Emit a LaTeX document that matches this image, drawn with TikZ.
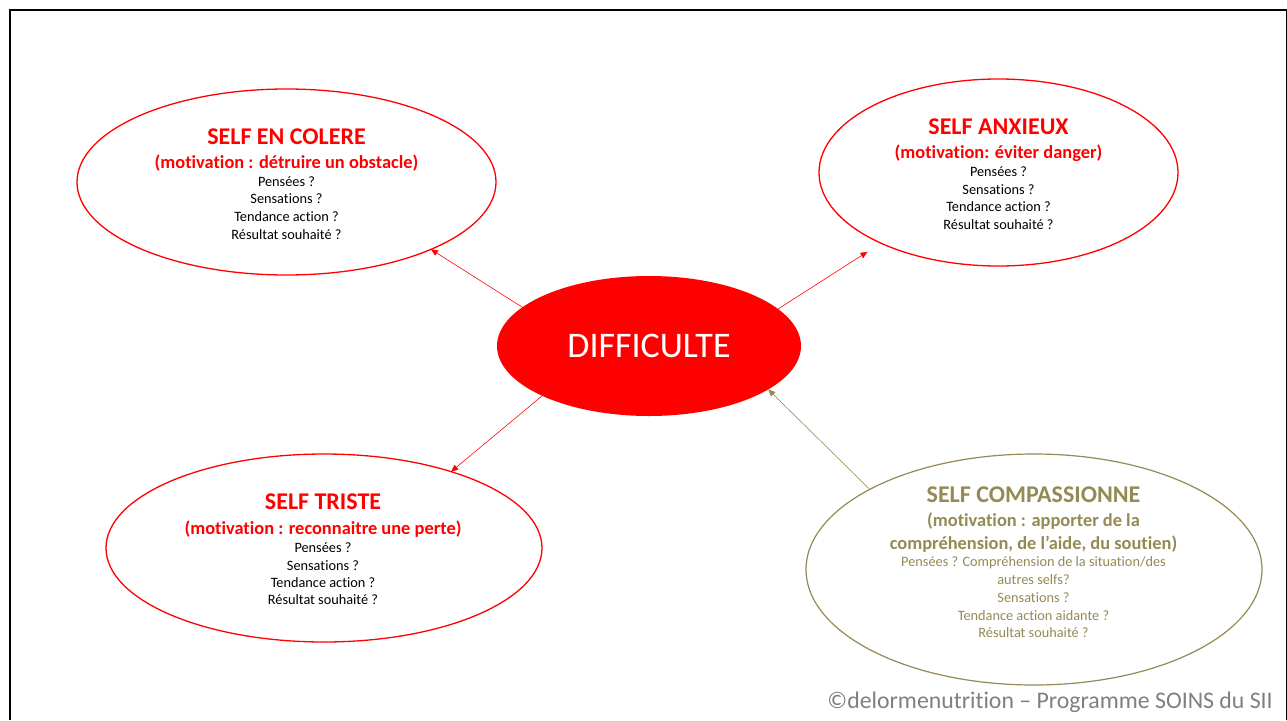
\documentclass[tikz,border=0pt]{standalone}
\usepackage{fontspec}
\setmainfont{Carlito}[Ligatures=NoCommon]
\usetikzlibrary{arrows.meta,shapes.geometric}
\definecolor{selfred}{HTML}{FF0000}
\definecolor{compcol}{HTML}{948A54}
\definecolor{footgray}{HTML}{7F7F7F}
\tikzset{
  selfell/.style={ellipse, draw=selfred, line width=1.3pt, inner sep=0pt, outer sep=0pt},
  ttl/.style={anchor=base, inner sep=0pt, font=\fontsize{24}{28}\selectfont\bfseries},
  mot/.style={anchor=base, inner sep=0pt, font=\fontsize{18.4}{22}\selectfont\bfseries},
  qln/.style={anchor=base, inner sep=0pt, font=\fontsize{14.3}{17}\selectfont},
  conn/.style={-{Triangle[length=7pt,width=6pt]}, line width=0.5pt},
}
\begin{document}
\begin{tikzpicture}[x=1pt,y=-1pt]
\fill[white] (0,0) rectangle (1287,720);
\useasboundingbox (0,0) rectangle (1287,720);
% frame
\draw[line width=2pt] (9.5,720) -- (9.5,9.5) -- (1286.5,9.5);
\draw[line width=1pt] (1286,9.5) -- (1286,720);

% central node
\node[ellipse, fill=selfred, inner sep=0pt, outer sep=0pt, minimum width=304pt, minimum height=140pt,
      text=white, font=\fontsize{36}{40}\selectfont] (diff) at (649,346) {DIFFICULTE};

% SELF EN COLERE
\node[selfell, minimum width=419pt, minimum height=186pt] (colere) at (286.5,182) {};
\node[ttl, text=selfred] (colere-t) at (286.5,144.3) {SELF EN COLERE};
\node[mot, text=selfred] (colere-m) at (286.5,168) {(motivation : détruire un obstacle)};
\node[qln] (colere-q1) at (286.5,186) {Pensées ?};
\node[qln] (colere-q2) at (286.5,203.7) {Sensations ?};
\node[qln] (colere-q3) at (286.5,221.4) {Tendance action ?};
\node[qln] (colere-q4) at (286.5,239) {Résultat souhaité ?};

% SELF ANXIEUX
\node[selfell, minimum width=359pt, minimum height=187pt] (anx) at (998.5,172.5) {};
\node[ttl, text=selfred] (anx-t) at (998.5,134) {SELF ANXIEUX};
\node[mot, text=selfred] (anx-m) at (998.5,158.3) {(motivation: éviter danger)};
\node[qln] (anx-q1) at (998.5,176) {Pensées ?};
\node[qln] (anx-q2) at (998.5,194) {Sensations ?};
\node[qln] (anx-q3) at (998.5,211.6) {Tendance action ?};
\node[qln] (anx-q4) at (998.5,229) {Résultat souhaité ?};

% SELF TRISTE
\node[selfell, minimum width=436pt, minimum height=188pt] (triste) at (324,548) {};
\node[ttl, text=selfred] (triste-t) at (323,509) {SELF TRISTE};
\node[mot, text=selfred] (triste-m) at (323,534) {(motivation : reconnaitre une perte)};
\node[qln] (triste-q1) at (323,552.7) {Pensées ?};
\node[qln] (triste-q2) at (323,570.2) {Sensations ?};
\node[qln] (triste-q3) at (323,587.5) {Tendance action ?};
\node[qln] (triste-q4) at (323,604.8) {Résultat souhaité ?};

% SELF COMPASSIONNE
\node[ellipse, draw=compcol, line width=1.2pt, inner sep=0pt, outer sep=0pt,
      minimum width=456pt, minimum height=231pt] (comp) at (1034,569.5) {};
\node[ttl, text=compcol] (comp-t) at (1033.5,502) {SELF COMPASSIONNE};
\node[mot, text=compcol] (comp-m1) at (1033.5,526) {(motivation : apporter de la};
\node[mot, text=compcol] (comp-m2) at (1033.5,549) {compréhension, de l’aide, du soutien)};
\node[qln, text=compcol] (comp-q1) at (1033.5,566.7) {Pensées ? Compréhension de la situation/des};
\node[qln, text=compcol] (comp-q2) at (1033.5,584.3) {autres selfs?};
\node[qln, text=compcol] (comp-q3) at (1033.5,602.5) {Sensations ?};
\node[qln, text=compcol] (comp-q4) at (1033.5,620) {Tendance action aidante ?};
\node[qln, text=compcol] (comp-q5) at (1033.5,637.3) {Résultat souhaité ?};

% connectors
\draw[conn, draw=selfred, fill=selfred] (diff.163.9) -- (colere.335.9);
\draw[conn, draw=selfred, fill=selfred, shorten >=16pt] (diff.16.9) -- (anx.211.7);
\draw[conn, draw=selfred, fill=selfred] (diff.205.1) -- (triste.31.3);
\draw[conn, draw=compcol, fill=compcol] (comp.154.5) -- (diff.340.7);

% footer
\node[anchor=base east, inner sep=0pt, text=footgray, font=\fontsize{23.8}{26}\selectfont] (foot) at (1273,708)
  {©delormenutrition – Programme SOINS du SII};
\end{tikzpicture}
\end{document}
